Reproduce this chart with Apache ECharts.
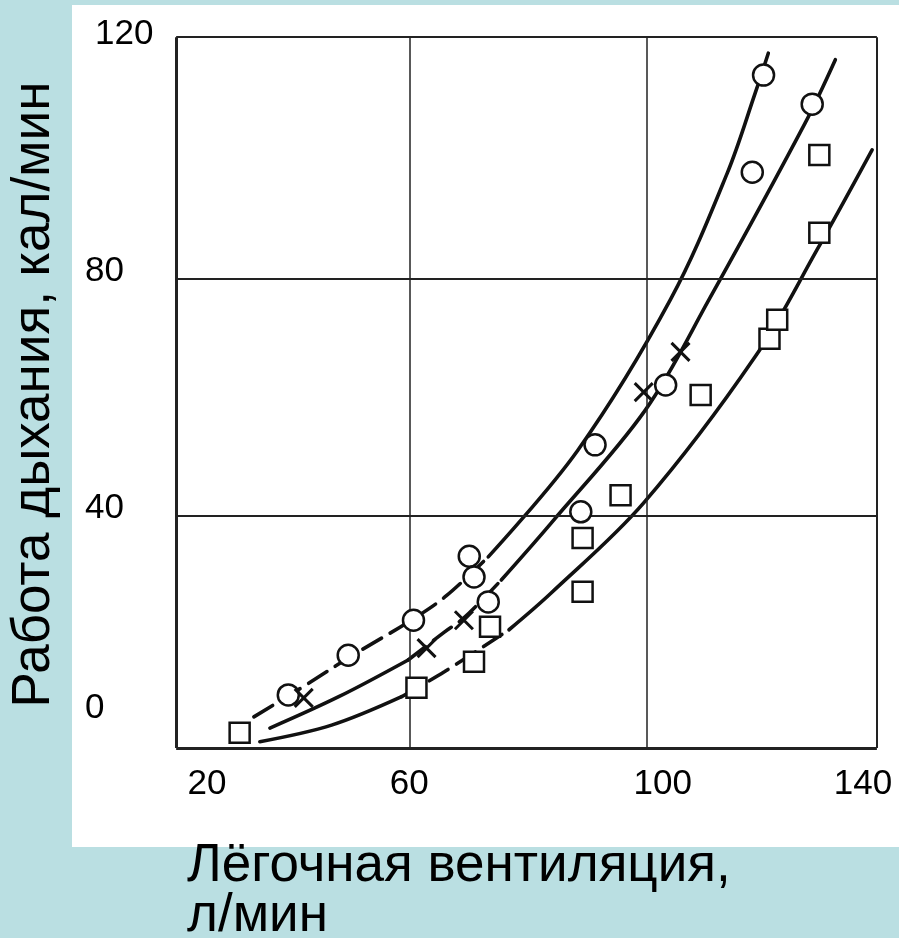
<!DOCTYPE html>
<html><head><meta charset="utf-8">
<script src="https://cdn.jsdelivr.net/npm/echarts@6/dist/echarts.min.js"></script>
<style>
html,body{margin:0;padding:0;background:#badfe2;width:899px;height:938px;overflow:hidden;}
#panel{position:absolute;left:72px;top:5px;width:827px;height:842px;background:#fff;}
#chart{position:absolute;left:0;top:0;width:899px;height:938px;}
</style></head><body>
<div id="panel"></div><div id="chart"></div>
<script>
// ---- data ----
const xTicks = [20, 60, 100, 140];
const yTicks = [0, 40, 80, 120];
const xTitle = 'Лёгочная вентиляция,\nл/мин';
const yTitle = 'Работа дыхания, кал/мин';

// measured points: [ventilation l/min, work cal/min]
const circles = [[39.6,9.8],[49.7,16.5],[60.7,22.4],[70.1,33.2],[70.9,29.7],[73.3,25.5],
  [88.9,40.7],[91.3,52.0],[103.2,62.1],[117.8,98.0],[119.7,114.4],[127.9,109.5]];
const crosses = [[42.2,9.3],[62.9,17.7],[69.2,22.4],[99.5,60.9],[105.7,67.7]];
const squares = [[31.4,3.4],[61.2,11.0],[70.9,15.4],[73.6,21.3],[89.2,27.2],[89.2,36.3],
  [95.6,43.5],[109.1,60.4],[120.7,69.9],[122.0,73.1],[129.1,87.8],[129.1,100.9]];

// fitted curves, split into dashed / solid parts
const upperDashed = [[33.8,6.1],[41.8,11.0],[50.3,16.4],[60.3,22.4],[66.2,26.5],[73.3,33.1]];
const upperSolid  = [[73.3,33.1],[88.4,51.1],[104.0,76.5],[113.6,97.9],[118.3,111.4],[120.5,118.1]];
const middleSolidA = [[36.5,4.2],[48.1,9.5],[59.8,15.7]];
const middleDashed = [[59.8,15.7],[65.9,20.4],[69.2,22.8],[75.5,29.2]];
const middleSolidB = [[75.5,29.2],[83.9,38.8],[99.8,57.9],[110.5,76.5],[126.7,106.3],[131.8,117.0]];
const lowerSolidA = [[34.8,1.9],[46.9,4.7],[58.7,9.5]];
const lowerDashed = [[58.7,9.5],[65.9,13.7],[76.8,20.8]];
const lowerSolidB = [[76.8,20.8],[83.9,27.0],[99.5,42.2],[118.3,66.9],[128.7,84.9],[138.0,101.8]];

// frame of the original figure (in data units) and inner grid lines
const frameX = [20.7, 138.8];
const frameY = [0.84, 120.8];
const gridX = [60, 100];
const gridY = [40, 80];

// ---- chart ----
const FONT = "'Liberation Sans', Arial, Helvetica, sans-serif";
const INK = '#111';
const chart = echarts.init(document.getElementById('chart'), null, {renderer: 'canvas'});

function curve(data, dashed) {
  return {
    type: 'line', data: data, smooth: 0.35, symbol: 'none', showSymbol: false,
    silent: true, z: 3,
    lineStyle: {color: INK, width: 3.6, type: dashed ? [22, 10] : 'solid', cap: 'round'}
  };
}
function ml(a, b, w) {
  return [{coord: a, lineStyle: {color: '#222', width: w, type: 'solid'}}, {coord: b}];
}
const frameLines = [
  ml([frameX[0], frameY[0]], [frameX[1], frameY[0]], 3),
  ml([frameX[0], frameY[0]], [frameX[0], frameY[1]], 3),
  ml([frameX[0], frameY[1]], [frameX[1], frameY[1]], 2),
  ml([frameX[1], frameY[0]], [frameX[1], frameY[1]], 2)
];
gridX.forEach(v => frameLines.push(ml([v, frameY[0]], [v, frameY[1]], 1.5)));
gridY.forEach(v => frameLines.push(ml([frameX[0], v], [frameX[1], v], 1.8)));

const lblBase = {fontSize: 35, color: '#000', fontFamily: FONT};
const xRich = {
  t0: Object.assign({padding: [0, 0, 0, 70]}, lblBase),
  t1: Object.assign({}, lblBase),
  t2: Object.assign({padding: [0, 0, 0, 32]}, lblBase),
  t3: Object.assign({padding: [0, 42, 0, 0]}, lblBase)
};
const yRich = {
  z: Object.assign({padding: [0, 0, 90, 0]}, lblBase),
  t: Object.assign({padding: [0, 0, 16, 10]}, lblBase),
  n: Object.assign({padding: [0, 0, 16, 0]}, lblBase)
};

chart.setOption({
  animation: false,
  backgroundColor: 'transparent',
  title: {
    text: xTitle, left: 187, top: 841, padding: 0,
    textStyle: {fontSize: 53, fontWeight: 'normal', color: '#000', lineHeight: 50, fontFamily: FONT}
  },
  grid: {left: 170, right: 15, top: 36, bottom: 185, containLabel: false},
  xAxis: {
    type: 'value', min: xTicks[0], max: xTicks[xTicks.length - 1], interval: 40,
    axisLine: {show: false}, axisTick: {show: false}, splitLine: {show: false},
    axisLabel: {
      margin: 14, fontSize: 35, color: '#000', fontFamily: FONT,
      formatter: v => xTicks.indexOf(v) < 0 ? '' : '{t' + xTicks.indexOf(v) + '|' + v + '}', rich: xRich
    }
  },
  yAxis: {
    // max slightly above 120 so the frame of the original figure fits
    type: 'value', min: yTicks[0], max: 121, interval: 40,
    name: yTitle, nameLocation: 'middle', nameRotate: 90, nameGap: 111,
    nameTextStyle: {fontSize: 53, color: '#000', fontFamily: FONT},
    axisLine: {show: false}, axisTick: {show: false}, splitLine: {show: false},
    axisLabel: {
      margin: 87, align: 'left', fontSize: 35, color: '#000', fontFamily: FONT,
      formatter: v => yTicks.indexOf(v) < 0 ? '' :
        (v === 0 ? '{z|0}' : (v === 120 ? '{t|120}' : '{n|' + v + '}')), rich: yRich
    }
  },
  series: [
    {type: 'line', data: [], silent: true, z: 1,
     markLine: {silent: true, symbol: ['none', 'none'], label: {show: false}, animation: false, data: frameLines}},
    curve(upperDashed, true), curve(upperSolid, false),
    curve(middleSolidA, false), curve(middleDashed, true), curve(middleSolidB, false),
    curve(lowerSolidA, false), curve(lowerDashed, true), curve(lowerSolidB, false),
    {type: 'scatter', data: circles, symbol: 'circle', symbolSize: 21, z: 5,
     itemStyle: {color: '#fff', borderColor: INK, borderWidth: 2.5, opacity: 1}},
    {type: 'scatter', data: squares, symbol: 'rect', symbolSize: 20, z: 5,
     itemStyle: {color: '#fff', borderColor: INK, borderWidth: 2.5, opacity: 1}},
    {type: 'scatter', data: crosses, symbol: 'path://M0,0L10,10M10,0L0,10', symbolSize: 18, z: 6,
     itemStyle: {color: 'none', borderColor: INK, borderWidth: 3, opacity: 1}}
  ]
});
</script>
</body></html>
